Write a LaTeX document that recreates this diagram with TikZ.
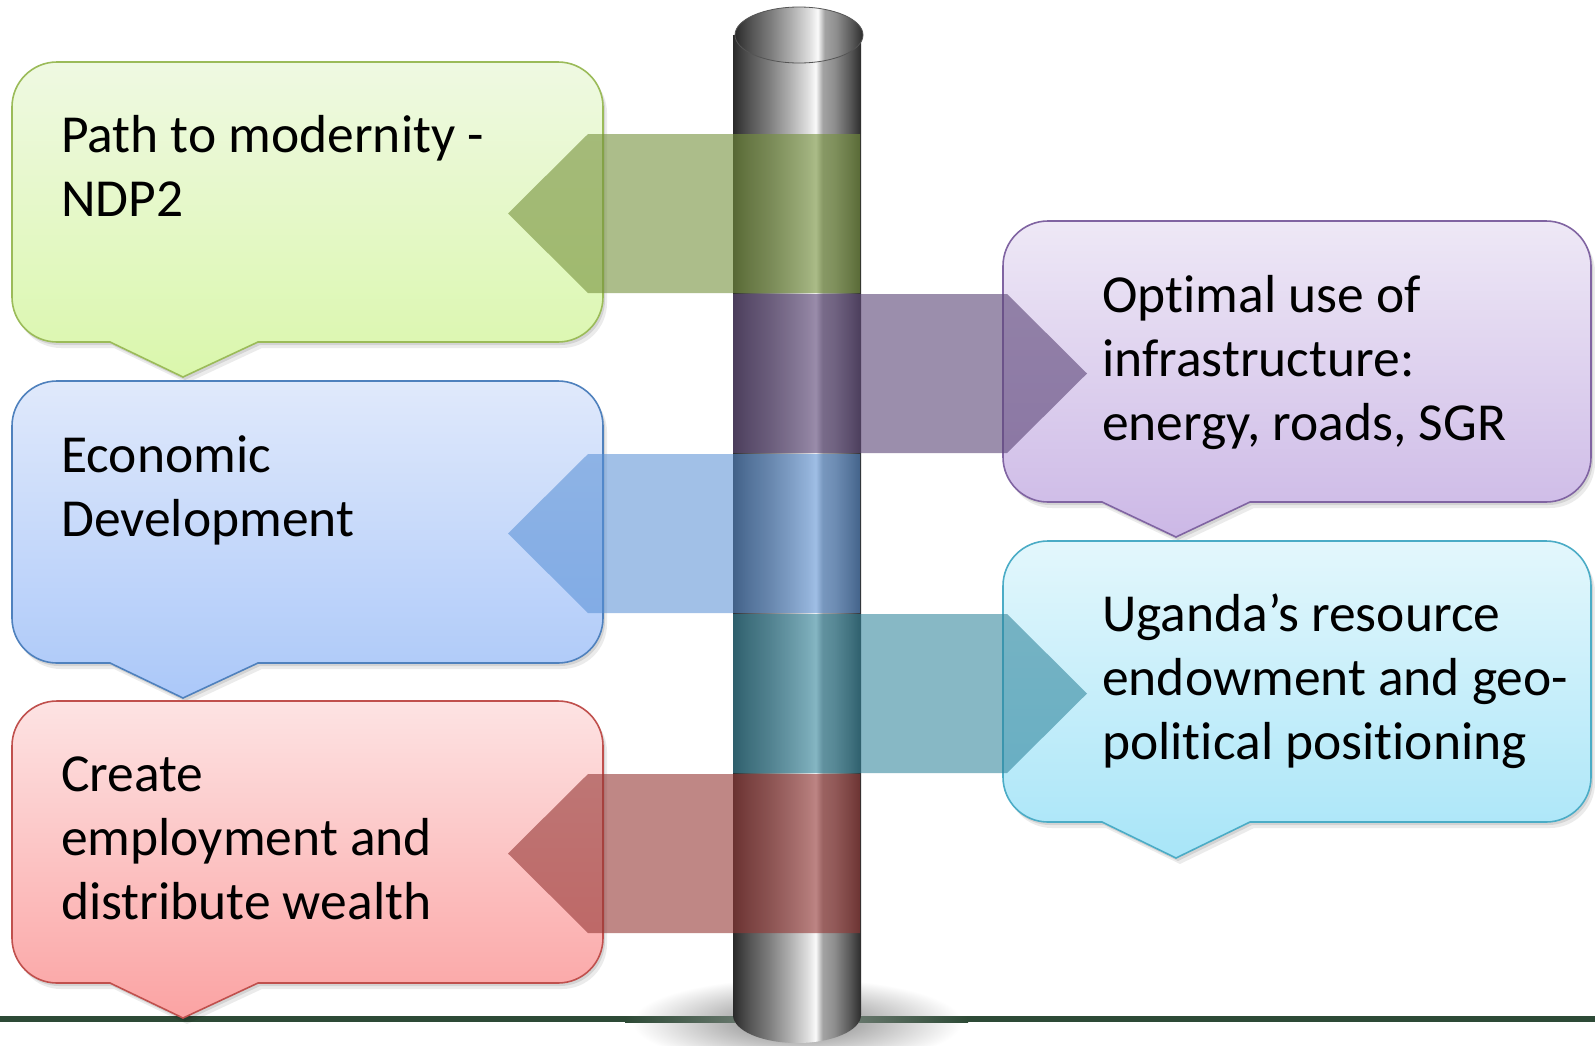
\documentclass[tikz,border=0pt]{standalone}
\usepackage{fontspec}
\setmainfont{Carlito}[Ligatures=NoCommon]
\usetikzlibrary{shadings}
% pole greys
\definecolor{g0}{HTML}{2A2A2A}\definecolor{g1}{HTML}{3C3C3C}\definecolor{g2}{HTML}{585858}
\definecolor{g3}{HTML}{7A7A7A}\definecolor{g4}{HTML}{ABABAB}\definecolor{g5}{HTML}{DDDDDD}
\definecolor{g6}{HTML}{FAFAFA}\definecolor{g7}{HTML}{A3A3A3}\definecolor{g8}{HTML}{8E8E8E}
\definecolor{g9}{HTML}{555555}\definecolor{g10}{HTML}{2C2C2C}
\pgfdeclarehorizontalshading{poleshade}{100bp}{color(0bp)=(g0); color(25bp)=(g0); color(27.5bp)=(g1); color(32bp)=(g2); color(38.5bp)=(g3); color(46.5bp)=(g4); color(54bp)=(g5); color(57.3bp)=(g6); color(60bp)=(g7); color(64.5bp)=(g8); color(71bp)=(g9); color(75bp)=(g10); color(100bp)=(g10)}
% ground
\definecolor{gl}{HTML}{2D4A36}\definecolor{glL}{HTML}{65756A}
% boxes
\definecolor{grT}{HTML}{EFF9E2}\definecolor{grB}{HTML}{DAF7AC}\definecolor{grD}{HTML}{9BBB59}
\definecolor{blT}{HTML}{E0E9FB}\definecolor{blB}{HTML}{ABC8F9}\definecolor{blD}{HTML}{4F81BD}
\definecolor{rdT}{HTML}{FDE3E3}\definecolor{rdB}{HTML}{FBA3A3}\definecolor{rdD}{HTML}{C0504D}
\definecolor{puT}{HTML}{EEE8F6}\definecolor{puB}{HTML}{CCB8E6}\definecolor{puD}{HTML}{8064A2}
\definecolor{cyT}{HTML}{E3F7FC}\definecolor{cyB}{HTML}{A8E5F8}\definecolor{cyD}{HTML}{4BACC6}
% arrows
\definecolor{agreen}{HTML}{76923C}\definecolor{apurple}{HTML}{5F497A}
\definecolor{ablue}{HTML}{558ED5}\definecolor{ateal}{HTML}{31859C}\definecolor{ared}{HTML}{953735}
% callout: #1 options, #2 x0, #3 y0, #4 x1, #5 y1, #6 p1, #7 tip x, #8 p2, #9 tip y
\newcommand\bubble[9]{\path[#1] (#6,#5) -- (#7,#9) -- (#8,#5) -- ({#4-45},#5) arc[start angle=90,end angle=0,radius=45] -- (#4,{#3+45}) arc[start angle=0,end angle=-90,radius=45] -- ({#2+45},#3) arc[start angle=-90,end angle=-180,radius=45] -- (#2,{#5-45}) arc[start angle=180,end angle=90,radius=45] -- cycle;}
\newcommand\shadowedbubble[9]{%
  \bubble{fill=black,opacity=0.10,xshift=2pt,yshift=-3pt}{#2}{#3}{#4}{#5}{#6}{#7}{#8}{#9}%
  \bubble{fill=black,opacity=0.08,xshift=4pt,yshift=-6pt}{#2}{#3}{#4}{#5}{#6}{#7}{#8}{#9}%
  \bubble{#1}{#2}{#3}{#4}{#5}{#6}{#7}{#8}{#9}}
\begin{document}
\begin{tikzpicture}[x=1pt,y=-1pt,
  arrowfill/.style 2 args={fill=#1,fill opacity=#2,draw=none},
  txt/.style={anchor=base west,inner sep=0pt,font=\fontsize{53.5}{64}\selectfont},
  boxline/.style={draw=#1,line width=1.6pt}]
\useasboundingbox[fill=white] (0,0) rectangle (1595,1045);

% soft shadow at the foot of the pole
\shade[inner color=black!50, outer color=white] (797,1022) ellipse[x radius=165, y radius=44];

% ground line
\fill[gl] (0,1016) rectangle (626,1022);
\shade[left color=gl, right color=glL] (625,1016) rectangle (735,1022);
\shade[left color=glL, right color=gl] (859,1016) rectangle (968,1022);
\fill[gl] (967,1016) rectangle (1595,1022);

% pole
\shade[shading=poleshade] (733,35) -- (733,1015) arc[start angle=180,end angle=0,x radius=64,y radius=28] -- (861,35) -- cycle;
\shadedraw[shading=poleshade, draw=g9, line width=0.8pt] (799,35) ellipse[x radius=64, y radius=28];

% callout boxes
\shadowedbubble{top color=grT,bottom color=grB,boxline=grD}{12}{62}{603}{342}{110}{183}{258}{377}
\shadowedbubble{top color=blT,bottom color=blB,boxline=blD}{12}{381}{603}{663}{110}{183}{258}{698}
\shadowedbubble{top color=rdT,bottom color=rdB,boxline=rdD}{12}{701}{603}{983}{110}{183}{258}{1018}
\shadowedbubble{top color=puT,bottom color=puB,boxline=puD}{1003}{221}{1591}{502}{1102}{1176}{1250}{537}
\shadowedbubble{top color=cyT,bottom color=cyB,boxline=cyD}{1003}{541}{1591}{822}{1102}{1176}{1250}{858}

% translucent arrows
\fill[arrowfill={agreen}{0.6}] (860,134) -- (588,134) -- (508,213.5) -- (588,293) -- (860,293) -- cycle;
\fill[arrowfill={apurple}{0.62}] (733,294) -- (1007,294) -- (1087,373.5) -- (1007,453) -- (733,453) -- cycle;
\fill[arrowfill={ablue}{0.55}] (860,454) -- (588,454) -- (508,533.5) -- (588,613) -- (860,613) -- cycle;
\fill[arrowfill={ateal}{0.58}] (733,614) -- (1007,614) -- (1087,693.5) -- (1007,773) -- (733,773) -- cycle;
\fill[arrowfill={ared}{0.6}] (860,774) -- (588,774) -- (508,853.5) -- (588,933) -- (860,933) -- cycle;

% texts
\node[txt] (t1) at (61,152) {\parbox[t]{540pt}{Path to modernity -\\NDP2}};
\node[txt] (t2) at (61,472) {\parbox[t]{540pt}{Economic\\Development}};
\node[txt] (t3) at (61,791) {\parbox[t]{540pt}{Create\\employment and\\distribute wealth}};
\node[txt] (t4) at (1102,312) {\parbox[t]{490pt}{Optimal use of\\infrastructure:\\energy, roads, SGR}};
\node[txt] (t5) at (1102,631) {\parbox[t]{490pt}{Uganda’s resource\\endowment and geo-\\political positioning}};
\end{tikzpicture}
\end{document}
